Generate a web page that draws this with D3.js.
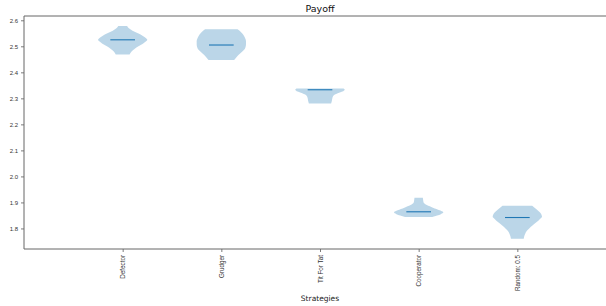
<!DOCTYPE html>
<html>
<head>
<meta charset="utf-8">
<script src="https://cdn.jsdelivr.net/npm/d3@7"></script>
<style>
  html, body { margin: 0; padding: 0; background: #fff; }
  svg { display: block; font-family: "DejaVu Sans", sans-serif; }
</style>
</head>
<body>
<svg id="chart" width="606" height="306"></svg>
<script>
const strategies = ["Defector", "Grudger", "Tit For Tat", "Cooperator", "Random: 0.5"];
const medians = [2.525, 2.505, 2.333, 1.864, 1.842];

// violin outlines: [payoff, relative half-width]
const defectorShape = [[2.578, 0.18], [2.57, 0.24], [2.56, 0.4], [2.55, 0.62], [2.54, 0.82], [2.53, 0.96], [2.525, 1.0], [2.52, 0.96], [2.51, 0.82], [2.50, 0.64], [2.49, 0.48], [2.48, 0.36], [2.469, 0.28]];
const grudgerShape = [[2.566, 0.66], [2.56, 0.74], [2.55, 0.84], [2.54, 0.92], [2.53, 0.97], [2.52, 1.0], [2.51, 1.0], [2.50, 0.99], [2.49, 0.95], [2.48, 0.85], [2.47, 0.74], [2.46, 0.63], [2.447, 0.52]];
const titForTatShape = [[2.338, 0.95], [2.335, 1.0], [2.33, 0.98], [2.325, 0.88], [2.32, 0.72], [2.315, 0.6], [2.31, 0.54], [2.30, 0.5], [2.29, 0.48], [2.28, 0.45]];
const cooperatorShape = [[1.918, 0.17], [1.91, 0.18], [1.90, 0.2], [1.895, 0.25], [1.89, 0.33], [1.885, 0.45], [1.88, 0.58], [1.875, 0.72], [1.87, 0.85], [1.865, 0.97], [1.862, 1.0], [1.855, 0.9], [1.85, 0.75], [1.844, 0.55]];
const randomShape = [[1.887, 0.6], [1.88, 0.7], [1.87, 0.82], [1.86, 0.93], [1.85, 0.99], [1.845, 1.0], [1.84, 0.96], [1.83, 0.85], [1.82, 0.72], [1.81, 0.6], [1.80, 0.48], [1.79, 0.38], [1.78, 0.32], [1.77, 0.28], [1.76, 0.26]];
const shapes = [defectorShape, grudgerShape, titForTatShape, cooperatorShape, randomShape];

const yTicks = [1.8, 1.9, 2.0, 2.1, 2.2, 2.3, 2.4, 2.5, 2.6];

const margin = { top: 16, left: 24 };
const plotBottom = 249;
const plotRight = 616;

const svg = d3.select("#chart");

const x = d3.scaleLinear().domain([0, 6]).range([margin.left, plotRight]);
const y = d3.scaleLinear().domain([1.721, 2.6165]).range([plotBottom, margin.top]);
const halfWidth = 0.25; // in x units

const area = d3.area()
  .curve(d3.curveMonotoneY)
  .y((d) => y(d[0]));

const violins = svg.append("g");
shapes.forEach((shape, i) => {
  const pos = i + 1;
  violins.append("path")
    .datum(shape)
    .attr("fill", "#1f77b4")
    .attr("fill-opacity", 0.3)
    .attr("d", area
      .x0((d) => x(pos - d[1] * halfWidth))
      .x1((d) => x(pos + d[1] * halfWidth)));
  violins.append("line")
    .attr("x1", x(pos - halfWidth / 2))
    .attr("x2", x(pos + halfWidth / 2))
    .attr("y1", y(medians[i]))
    .attr("y2", y(medians[i]))
    .attr("stroke", "#1f77b4")
    .attr("stroke-width", 1.1);
});

// axes
const yAxis = svg.append("g")
  .attr("transform", `translate(${margin.left},0)`)
  .call(d3.axisLeft(y).tickValues(yTicks).tickFormat(d3.format(".1f")).tickSize(3).tickPadding(3));
yAxis.select(".domain").remove();
yAxis.selectAll("line").attr("stroke", "#444").attr("stroke-width", 0.7);
yAxis.selectAll("text").attr("font-size", 6).attr("fill", "#333");

const xAxis = svg.append("g")
  .attr("transform", `translate(0,${plotBottom})`)
  .call(d3.axisBottom(x).tickValues(strategies.map((_, i) => i + 1)).tickFormat((d) => strategies[d - 1]).tickSize(3));
xAxis.select(".domain").remove();
xAxis.selectAll("line").attr("stroke", "#444").attr("stroke-width", 0.7);
xAxis.selectAll("text")
  .attr("font-size", 6.3)
  .attr("fill", "#333")
  .attr("transform", "rotate(-90)")
  .attr("text-anchor", "end")
  .attr("x", -6)
  .attr("y", 0)
  .attr("dy", "0.32em");

// spines
const spineColor = "#666";
svg.append("line").attr("x1", margin.left).attr("x2", plotRight).attr("y1", margin.top).attr("y2", margin.top)
  .attr("stroke", spineColor).attr("stroke-width", 1);
svg.append("line").attr("x1", margin.left).attr("x2", plotRight).attr("y1", plotBottom).attr("y2", plotBottom)
  .attr("stroke", spineColor).attr("stroke-width", 1);
svg.append("line").attr("x1", margin.left).attr("x2", margin.left).attr("y1", margin.top).attr("y2", plotBottom)
  .attr("stroke", spineColor).attr("stroke-width", 1);

svg.append("text")
  .attr("x", (margin.left + plotRight) / 2)
  .attr("y", 12)
  .attr("text-anchor", "middle")
  .attr("font-size", 9.5)
  .attr("fill", "#111")
  .text("Payoff");

svg.append("text")
  .attr("x", (margin.left + plotRight) / 2)
  .attr("y", 301)
  .attr("text-anchor", "middle")
  .attr("font-size", 7.5)
  .attr("fill", "#222")
  .text("Strategies");
</script>
</body>
</html>
